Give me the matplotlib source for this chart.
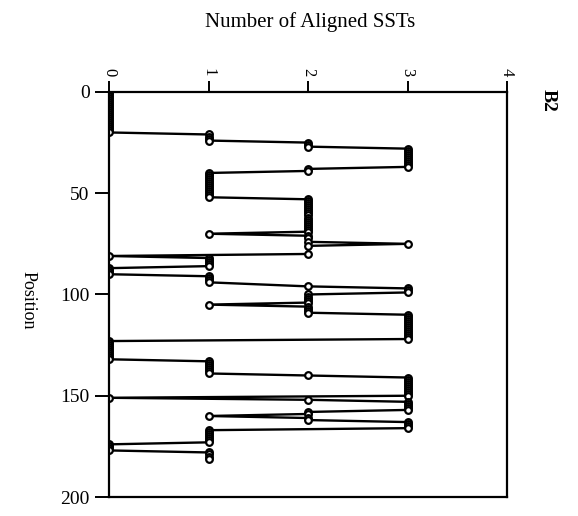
import matplotlib
matplotlib.use('Agg')
import matplotlib.pyplot as plt

plt.rcParams['font.family'] = ['Liberation Serif', 'DejaVu Serif']

# residue position along the sequence and number of aligned SSTs at that position
position = [0, 1, 2, 3, 4, 5, 6, 7, 8, 9, 10, 11, 12, 13, 14, 15, 16, 17, 18, 19, 20,
            21, 22, 23, 24, 25, 26, 27,
            28, 29, 30, 31, 32, 33, 34, 35, 36, 37, 38, 39,
            40, 41, 42, 43, 44, 45, 46, 47, 48, 49, 50, 51, 52,
            53, 54, 55, 56, 57, 58, 59, 60, 61, 62, 63, 64, 65, 66, 67, 68, 69,
            70, 71, 72, 74, 75, 76, 80, 81,
            82, 83, 84, 85, 86, 87, 88, 89, 90, 91, 92, 93, 94,
            96, 97, 98, 99, 100, 101, 102, 103, 104, 105, 106, 107, 108, 109,
            110, 111, 112, 113, 114, 115, 116, 117, 118, 119, 120, 121, 122,
            123, 124, 125, 126, 127, 128, 129, 130, 131, 132,
            133, 134, 135, 136, 137, 138, 139, 140,
            141, 142, 143, 144, 145, 146, 147, 148, 149, 150, 151, 152,
            153, 154, 155, 156, 157, 158, 159, 160, 161, 162,
            163, 164, 165, 166, 167, 168, 169, 170, 171, 172, 173,
            174, 175, 176, 177, 178, 179, 180, 181]
aligned = [0, 0, 0, 0, 0, 0, 0, 0, 0, 0, 0, 0, 0, 0, 0, 0, 0, 0, 0, 0, 0,
           1, 1, 1, 1, 2, 2, 2,
           3, 3, 3, 3, 3, 3, 3, 3, 3, 3, 2, 2,
           1, 1, 1, 1, 1, 1, 1, 1, 1, 1, 1, 1, 1,
           2, 2, 2, 2, 2, 2, 2, 2, 2, 2, 2, 2, 2, 2, 2, 2, 2,
           1, 2, 2, 2, 3, 2, 2, 0,
           1, 1, 1, 1, 1, 0, 0, 0, 0, 1, 1, 1, 1,
           2, 3, 3, 3, 2, 2, 2, 2, 2, 1, 2, 2, 2, 2,
           3, 3, 3, 3, 3, 3, 3, 3, 3, 3, 3, 3, 3,
           0, 0, 0, 0, 0, 0, 0, 0, 0, 0,
           1, 1, 1, 1, 1, 1, 1, 2,
           3, 3, 3, 3, 3, 3, 3, 3, 3, 3, 0, 2,
           3, 3, 3, 3, 3, 2, 2, 1, 2, 2,
           3, 3, 3, 3, 1, 1, 1, 1, 1, 1, 1,
           0, 0, 0, 0, 1, 1, 1, 1]

x_ticks = [0, 1, 2, 3, 4]
y_ticks = [0, 50, 100, 150, 200]


def main():
    fig = plt.figure(figsize=(5.78, 5.16), dpi=100)
    ax = fig.add_axes([0.1886, 0.0368, 0.6886, 0.785])

    ax.plot(aligned, position, color='black', lw=1.7,
            marker='o', ms=4.8, mfc='white', mec='black', mew=1.6)

    ax.set_xlim(0, 4)
    ax.set_ylim(200, 0)
    ax.xaxis.tick_top()
    ax.set_xticks(x_ticks)
    ax.set_xticklabels([str(t) for t in x_ticks], rotation=-90, fontsize=12)
    ax.set_yticks(y_ticks)
    ax.set_yticklabels([str(t) for t in y_ticks], fontsize=14)
    ax.tick_params(axis='x', direction='out', length=8, width=1.4, pad=3)
    ax.tick_params(axis='y', direction='out', length=10, width=1.4, pad=4)
    for s in ax.spines.values():
        s.set_linewidth(1.6)

    fig.text(0.536, 0.957, 'Number of Aligned SSTs', ha='center', va='center', fontsize=15)
    fig.text(0.048, 0.419, 'Position', ha='center', va='center', rotation=-90, fontsize=13)
    fig.text(0.948, 0.806, 'B2', ha='center', va='center', rotation=-90,
             fontsize=14, fontweight='bold')

    fig.savefig('out.png', dpi=100)


if __name__ == "__main__":
    main()
